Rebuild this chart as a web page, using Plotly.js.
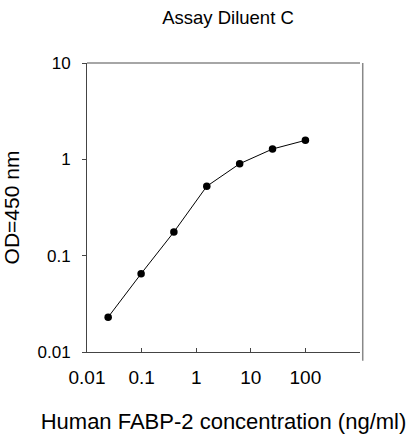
<!DOCTYPE html>
<html>
<head>
<meta charset="utf-8">
<script src="https://cdn.plot.ly/plotly-3.0.1.min.js"></script>
<style>html,body{margin:0;padding:0;background:#fff;}#chart{width:419px;height:439px;}</style>
</head>
<body>
<div id="chart"></div>
<script>
const concentration = [0.0244, 0.098, 0.39, 1.5625, 6.25, 25, 100];
const od450 = [0.023, 0.065, 0.176, 0.525, 0.90, 1.28, 1.575];
const xTickVals = [0.01, 0.1, 1, 10, 100, 1000];
const xTickText = ['0.01', '0.1', '1', '10', '100', ''];
const yTickVals = [0.01, 0.1, 1, 10];
const yTickText = ['0.01', '0.1', '1', '10'];

const font = 'Liberation Sans, Arial, Helvetica, sans-serif';

Plotly.newPlot('chart', [{
  x: concentration,
  y: od450,
  type: 'scatter',
  mode: 'lines+markers',
  line: {color: '#000', width: 1},
  marker: {color: '#000', size: 7.5},
  hoverinfo: 'skip'
}], {
  width: 419, height: 439,
  margin: {l: 87, r: 59, t: 63, b: 87},
  paper_bgcolor: '#fff', plot_bgcolor: '#fff',
  showlegend: false,
  font: {family: font, color: '#000'},
  title: {text: 'Assay Diluent C', font: {size: 18.5, family: font, color: '#000'},
          x: 228/419, xanchor: 'center', xref: 'container', y: 1 - 18/439, yanchor: 'middle', yref: 'container'},
  xaxis: {
    type: 'log', range: [-2, 3],
    tickvals: xTickVals, ticktext: xTickText,
    ticks: 'inside', ticklen: 4, tickcolor: '#444', tickwidth: 1,
    showline: true, linecolor: '#444', linewidth: 1,
    showgrid: false, zeroline: false,
    tickfont: {size: 19, family: font, color: '#000'},
    ticklabelstandoff: 8,
    title: {text: 'Human FABP-2 concentration (ng/ml)', font: {size: 22, family: font, color: '#000'}, standoff: 26}
  },
  yaxis: {
    type: 'log', range: [-2, 1],
    tickvals: yTickVals, ticktext: yTickText,
    ticks: 'outside', ticklen: 4, tickcolor: '#444', tickwidth: 1,
    showline: true, linecolor: '#444', linewidth: 1,
    showgrid: false, zeroline: false,
    tickfont: {size: 17, family: font, color: '#000'},
    ticklabelstandoff: 8,
    title: {text: 'OD=450 nm', font: {size: 21, family: font, color: '#000'}, standoff: 12}
  },
  shapes: [
    {type: 'line', xref: 'paper', yref: 'paper', x0: 0, x1: 1, y0: 1, y1: 1, line: {color: '#888', width: 1.5}},
    {type: 'line', xref: 'paper', yref: 'paper', x0: 1.01, x1: 1.01, y0: -0.03, y1: 1, line: {color: '#888', width: 1.5}}
  ]
}, {displayModeBar: false, staticPlot: true});
</script>
</body>
</html>
